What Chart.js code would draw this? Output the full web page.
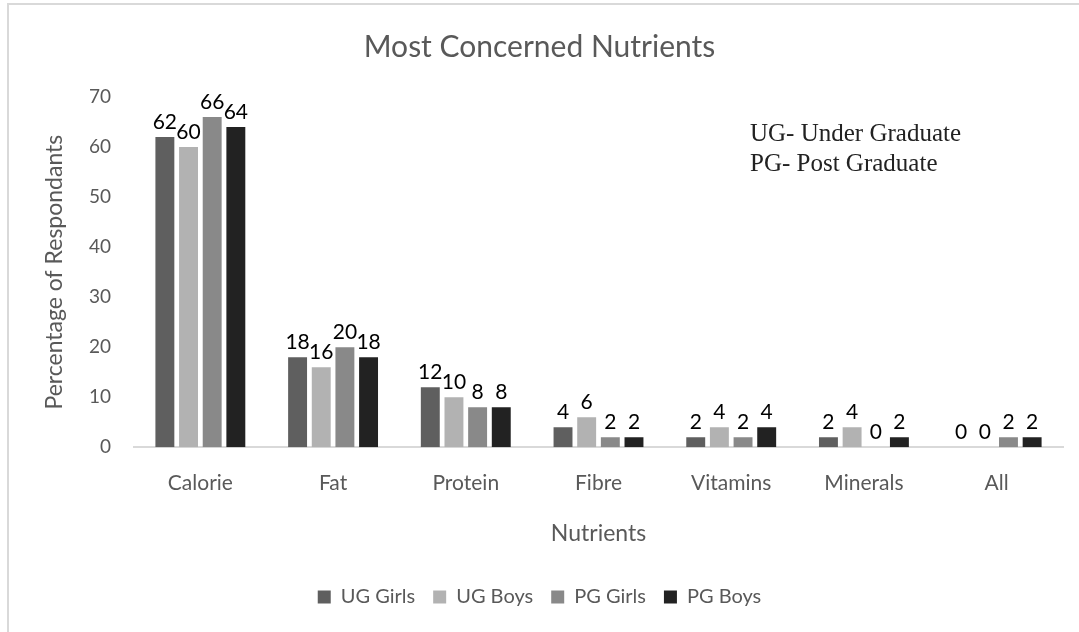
<!DOCTYPE html>
<html>
<head>
<meta charset="utf-8">
<script src="https://cdn.jsdelivr.net/npm/chart.js@4.4.1/dist/chart.umd.min.js"></script>
<style>
html,body{margin:0;padding:0;background:#fff;overflow:hidden;}
#frame{position:absolute;left:7px;top:3px;width:1200px;height:800px;border-top:2px solid #d9d9d9;border-left:2px solid #d9d9d9;}
#wrap{position:absolute;left:0;top:0;width:1079px;height:632px;}
</style>
</head>
<body>
<div id="frame"></div>
<div id="wrap"><canvas id="c"></canvas></div>
<script>
// data
const nutrients = ['Calorie','Fat','Protein','Fibre','Vitamins','Minerals','All'];
const ugGirls = [62,18,12,4,2,2,0];
const ugBoys  = [60,16,10,6,4,4,0];
const pgGirls = [66,20,8,2,2,0,2];
const pgBoys  = [64,18,8,2,4,2,2];
const yTicks  = [0,10,20,30,40,50,60,70];
const noteLines = ['UG- Under Graduate','PG- Post Graduate'];

const FONT = "Lato, 'Open Sans', sans-serif";
const GREY = '#595959';

// value labels above the bars
const barLabels = {
  id:'barLabels',
  afterDatasetsDraw(chart){
    const ctx=chart.ctx;ctx.save();
    ctx.font=`21px ${FONT}`;ctx.fillStyle='#000';ctx.textAlign='center';ctx.textBaseline='bottom';
    chart.data.datasets.forEach((ds,i)=>{
      chart.getDatasetMeta(i).data.forEach((bar,j)=>{ctx.fillText(String(ds.data[j]),bar.x,bar.y-4);});
    });
    ctx.restore();
  }
};

// the UG / PG note box
const note = {
  id:'note',
  afterDraw(chart){
    const ctx=chart.ctx;ctx.save();
    ctx.font="25px 'Liberation Serif', 'DejaVu Serif', serif";ctx.fillStyle='#222';ctx.textAlign='left';ctx.textBaseline='middle';
    noteLines.forEach((t,i)=>ctx.fillText(t,750,134+i*30));
    ctx.restore();
  }
};

const mk=(label,data,color)=>({label,data,backgroundColor:color,borderWidth:0,categoryPercentage:0.713,barPercentage:0.8});

new Chart(document.getElementById('c'),{
  type:'bar',
  data:{labels:nutrients,datasets:[
    mk('UG Girls',ugGirls,'#5f5f5f'),
    mk('UG Boys',ugBoys,'#b2b2b2'),
    mk('PG Girls',pgGirls,'#898989'),
    mk('PG Boys',pgBoys,'#222222')
  ]},
  options:{
    responsive:true,maintainAspectRatio:false,animation:false,
    layout:{padding:{left:0,right:0,top:0,bottom:15}},
    plugins:{
      title:{display:true,text:'Most Concerned Nutrients',color:GREY,font:{family:FONT,size:30,weight:'normal'},padding:{top:29,bottom:32}},
      legend:{position:'bottom',labels:{color:GREY,font:{family:FONT,size:20},boxWidth:13,boxHeight:13,padding:18}},
      tooltip:{enabled:false}
    },
    scales:{
      x:{
        grid:{display:false,drawTicks:false},
        border:{display:true,color:'#d9d9d9',width:2},
        ticks:{color:GREY,font:{family:FONT,size:21},padding:23},
        title:{display:true,text:'Nutrients',color:GREY,font:{family:FONT,size:23},padding:{top:1,bottom:22}}
      },
      y:{
        min:0,max:70,
        afterBuildTicks:s=>{s.ticks=yTicks.map(v=>({value:v}));},
        afterFit:s=>{s.width=134;},
        grid:{display:false,drawTicks:false},
        border:{display:false},
        ticks:{color:GREY,font:{family:FONT,size:19},padding:23},
        title:{display:true,text:'Percentage of Respondants',color:GREY,font:{family:FONT,size:23},padding:{top:41,bottom:0}}
      },
      // empty right-hand strip so the plot ends where the reference's does
      yR:{
        position:'right',
        afterFit:s=>{s.width=16;},
        grid:{display:false,drawTicks:false},
        border:{display:false},
        ticks:{display:false}
      }
    }
  },
  plugins:[barLabels,note]
});
</script>
</body>
</html>
